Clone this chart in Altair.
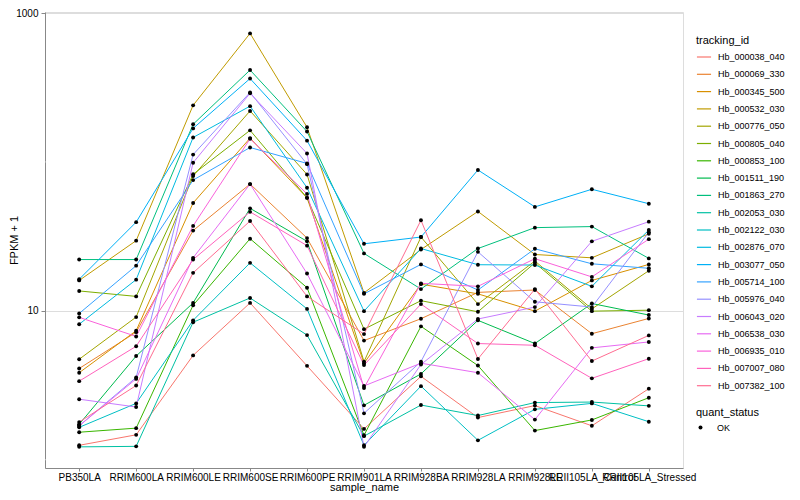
import altair as alt
import pandas as pd

samples = ["PB350LA", "RRIM600LA", "RRIM600LE", "RRIM600SE", "RRIM600PE",
           "RRIM901LA", "RRIM928BA", "RRIM928LA", "RRIM928LE",
           "RRII105LA_Control", "RRII105LA_Stressed"]

tracking_ids = ["Hb_000038_040", "Hb_000069_330", "Hb_000345_500", "Hb_000532_030",
                "Hb_000776_050", "Hb_000805_040", "Hb_000853_100", "Hb_001511_190",
                "Hb_001863_270", "Hb_002053_030", "Hb_002122_030", "Hb_002876_070",
                "Hb_003077_050", "Hb_005714_100", "Hb_005976_040", "Hb_006043_020",
                "Hb_006538_030", "Hb_006935_010", "Hb_007007_080", "Hb_007382_100"]

hb_000038_040 = [1.25, 1.47, 5.02, 11.3, 4.27, 1.61, 3.63, 1.92, 2.31, 1.69, 3.0]
hb_000069_330 = [4.10, 7.19, 34.6, 71.0, 30.8, 6.31, 8.85, 13.3, 13.8, 7.02, 8.89]
hb_000345_500 = [3.84, 7.35, 53.0, 144.5, 57.4, 4.45, 15.1, 13.0, 9.95, 16.0, 20.5]
hb_000532_030 = [16.0, 29.6, 240, 730, 171, 13.2, 25.8, 46.5, 23.9, 22.7, 32.9]
hb_000776_050 = [4.73, 9.08, 80.5, 220, 82.4, 4.56, 31.3, 11.1, 21.6, 10.3, 18.6]
hb_000805_040 = [13.6, 12.5, 82.6, 163, 57.4, 7.53, 11.7, 9.85, 21.0, 9.95, 10.1]
hb_000853_100 = [1.53, 1.63, 10.9, 30.5, 14.3, 1.46, 7.87, 4.29, 1.57, 1.85, 2.61]
hb_001511_190 = [1.73, 4.97, 11.3, 48.8, 29.3, 2.32, 3.77, 8.63, 6.03, 11.2, 9.37]
hb_001863_270 = [22.1, 22.1, 179, 414, 160, 24.3, 14.0, 26.2, 36.2, 36.8, 22.5]
hb_002053_030 = [1.22, 1.23, 8.38, 12.2, 6.87, 1.44, 2.33, 1.98, 2.42, 2.44, 2.30]
hb_002122_030 = [1.65, 2.39, 8.63, 21.0, 10.3, 1.25, 3.12, 1.35, 2.18, 2.39, 1.80]
hb_002876_070 = [8.13, 16.2, 146, 237, 67.1, 9.95, 26.2, 20.4, 20.3, 14.6, 34.9]
hb_003077_050 = [16.3, 39.4, 168, 363, 139, 28.2, 31.3, 88.3, 49.9, 65.5, 52.4]
hb_005714_100 = [9.60, 20.1, 75.5, 125, 97.7, 13.0, 20.5, 13.8, 26.1, 20.7, 19.3]
hb_005976_040 = [1.69, 3.57, 112, 293, 96.6, 2.05, 4.56, 24.9, 11.5, 10.6, 33.7]
hb_006043_020 = [2.55, 2.26, 98.8, 289, 114, 1.22, 4.36, 8.81, 10.6, 29.3, 39.7]
hb_006538_030 = [1.69, 3.49, 22.7, 71.0, 17.8, 3.13, 4.45, 3.84, 1.86, 5.64, 6.18]
hb_006935_010 = [9.04, 6.73, 37.2, 143, 61.0, 3.03, 15.3, 14.6, 22.4, 16.9, 30.3]
hb_007007_080 = [3.37, 5.78, 22.1, 46.2, 27.4, 4.32, 11.1, 6.03, 5.87, 3.52, 4.77]
hb_007382_100 = [1.79, 3.15, 18.0, 40.1, 12.5, 6.98, 40.6, 4.75, 14.0, 4.60, 6.84]

series = [hb_000038_040, hb_000069_330, hb_000345_500, hb_000532_030, hb_000776_050,
          hb_000805_040, hb_000853_100, hb_001511_190, hb_001863_270, hb_002053_030,
          hb_002122_030, hb_002876_070, hb_003077_050, hb_005714_100, hb_005976_040,
          hb_006043_020, hb_006538_030, hb_006935_010, hb_007007_080, hb_007382_100]

colors = ["#F8766D", "#EA8331", "#D89000", "#C09B00", "#A3A500", "#7CAE00", "#39B600",
          "#00BB4E", "#00BF7D", "#00C1A3", "#00BFC4", "#00BAE0", "#00B0F6", "#35A2FF",
          "#9590FF", "#C77CFF", "#E76BF3", "#FA62DB", "#FF62BC", "#FF6C91"]

major_breaks = [10, 1000]
minor_breaks = [1, 100]
y_domain = [0.88, 1016]

rows = []
for tid, vals in zip(tracking_ids, series):
    for s, v in zip(samples, vals):
        rows.append({"tracking_id": tid, "sample_name": s, "fpkm1": v, "quant_status": "OK"})
df = pd.DataFrame(rows)

FONT = "Liberation Sans"
PLOT_H = 456

yscale = alt.Scale(type="log", domain=y_domain, nice=False)
xscale = alt.Scale(type="point", padding=0.6, domain=samples)

x_enc = alt.X("sample_name:N", scale=xscale, sort=samples, title="sample_name",
              axis=alt.Axis(labelAngle=0, labelOverlap=False, labelBound=False,
                            labelFlush=False, tickSize=3, labelPadding=1,
                            titleX=319, titleY=22, titleBaseline="alphabetic",
                            titleAlign="center", titleFontWeight="normal"))
y_axis = alt.Axis(values=major_breaks, format="d", tickSize=4, labelPadding=3,
                  titleX=-28, titleY=PLOT_H / 2, titleBaseline="alphabetic",
                  titleAlign="center", titleAngle=270, titleFontWeight="normal")

minor = alt.Chart(pd.DataFrame({"v": minor_breaks})).mark_rule(
    color="white", strokeWidth=0.55
).encode(y=alt.Y("v:Q", scale=yscale, axis=y_axis, title="FPKM + 1"))

lines = alt.Chart(df).mark_line(strokeWidth=1).encode(
    x=x_enc,
    y=alt.Y("fpkm1:Q", scale=yscale, axis=y_axis, title="FPKM + 1"),
    color=alt.Color("tracking_id:N", scale=alt.Scale(domain=tracking_ids, range=colors),
                    legend=alt.Legend(title="tracking_id", orient="none",
                                      legendX=651, legendY=23,
                                      symbolType="stroke", symbolSize=200,
                                      symbolStrokeWidth=1.2, labelOffset=6,
                                      rowPadding=4.3, titlePadding=3,
                                      labelFontSize=9, titleFontSize=11,
                                      titleFontWeight="normal")),
    detail="tracking_id:N",
)

points = alt.Chart(df).mark_point(filled=True, size=15, opacity=1, color="black").encode(
    x=x_enc,
    y=alt.Y("fpkm1:Q", scale=yscale, axis=y_axis, title="FPKM + 1"),
    shape=alt.Shape("quant_status:N", scale=alt.Scale(domain=["OK"], range=["circle"]),
                    legend=alt.Legend(title="quant_status", orient="none",
                                      legendX=651, legendY=395,
                                      symbolFillColor="black", symbolStrokeColor="black",
                                      symbolSize=16, labelOffset=12, titlePadding=5,
                                      labelFontSize=9, titleFontSize=11,
                                      titleFontWeight="normal")),
)

chart = alt.layer(minor, lines, points).properties(
    width=638, height=PLOT_H,
    autosize=alt.AutoSizeParams(type="none"),
    padding={"left": 37, "top": 4, "right": 109, "bottom": 25},
).configure_view(
    fill="#EBEBEB", stroke=None
).configure_axis(
    grid=True, gridColor="white", gridWidth=1.1, domain=False,
    tickColor="#333333", tickWidth=1,
    labelColor="#4D4D4D", labelFontSize=8.3, labelFont=FONT,
    titleColor="black", titleFontSize=11, titleFont=FONT, titleFontWeight="normal",
).configure_legend(
    titleFont=FONT, labelFont=FONT, titleFontWeight="normal",
    titleColor="black", labelColor="black", padding=0,
).configure(background="white")

chart.save("out.html", embed_options={"renderer": "svg", "actions": False})
